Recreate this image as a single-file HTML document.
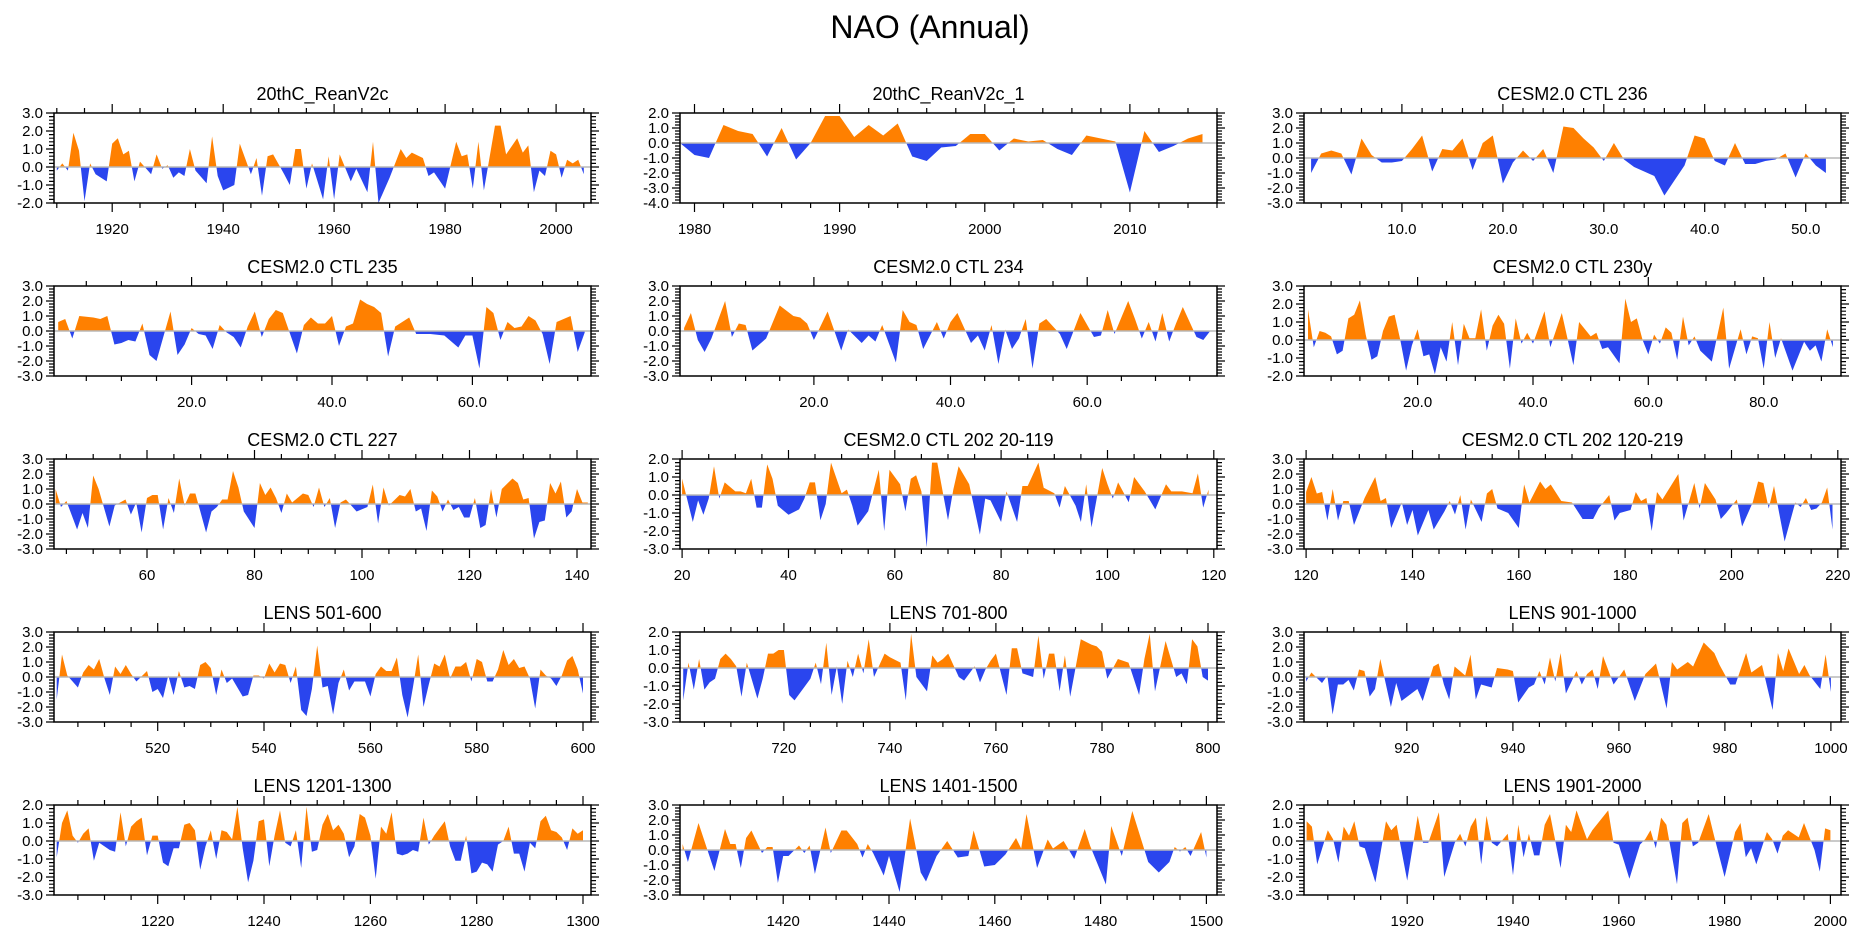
<!DOCTYPE html>
<html><head><meta charset="utf-8"><title>NAO (Annual)</title>
<style>
html,body{margin:0;padding:0;background:#fff;}
svg{display:block;font-family:"Liberation Sans",Arial,sans-serif;}
</style></head>
<body>
<svg id="fig" width="1861" height="936" viewBox="0 0 1861 936" xmlns="http://www.w3.org/2000/svg">
<text x="930" y="38" font-size="32" text-anchor="middle">NAO (Annual)</text>
</svg>
<script>
// ---- Data ----
const p1Years=[1910,1911,1912,1913,1914,1915,1916,1917,1919,1920,1921,1922,1923,1924,1925,1927,1928,1929,1930,1931,1932,1933,1934,1935,1937,1938,1939,1940,1942,1943,1945,1946,1947,1948,1949,1951,1952,1953,1954,1955,1956,1958,1959,1960,1961,1963,1964,1966,1967,1968,1970,1972,1973,1974,1976,1977,1978,1980,1982,1983,1984,1985,1986,1987,1989,1990,1991,1993,1994,1995,1996,1997,1998,1999,2000,2001,2002,2003,2004,2005];
const p1Vals=[-0.2,0.2,-0.2,1.9,0.9,-1.9,0.2,-0.4,-0.8,1.3,1.6,0.7,0.9,-0.8,0.3,-0.4,0.7,-0.1,0.1,-0.6,-0.3,-0.5,1.0,-0.2,-0.9,1.7,-0.5,-1.3,-1.0,1.3,-0.4,0.5,-1.6,0.6,0.7,-0.4,-1.0,1.0,1.0,-1.2,0.2,-1.8,0.6,-1.8,0.7,-0.8,-0.1,-1.4,1.4,-2.0,-0.6,1.0,0.5,0.8,0.5,-0.5,-0.3,-1.2,1.4,0.6,0.7,-1.2,1.4,-1.3,2.3,2.3,0.7,1.6,0.8,1.2,-1.4,-0.2,-0.5,0.9,0.7,-0.6,0.4,0.2,0.4,-0.4];

const p2Years=[1979,1980,1981,1982,1983,1984,1985,1986,1987,1988,1989,1990,1991,1992,1993,1994,1995,1996,1997,1998,1999,2000,2001,2002,2003,2004,2005,2006,2007,2008,2009,2010,2011,2012,2013,2014,2015];
const p2Vals=[0.0,-0.8,-1.0,1.2,0.8,0.6,-0.9,1.0,-1.1,0.0,1.8,1.8,0.4,1.2,0.5,1.3,-0.9,-1.2,-0.3,-0.2,0.6,0.6,-0.5,0.3,0.1,0.2,-0.4,-0.8,0.5,0.3,0.1,-3.3,0.8,-0.6,-0.2,0.3,0.6];

const p3Years=[1,2,3,4,5,6,7,8,9,10,11,12,13,14,15,16,17,18,19,20,21,22,23,24,25,26,27,28,29,30,31,32,33,34,35,36,37,38,39,40,41,42,43,44,45,46,47,48,49,50,51,52];
const p3Vals=[-1.0,0.3,0.5,0.3,-1.1,1.3,0.2,-0.3,-0.3,-0.2,0.6,1.5,-0.9,0.6,0.5,1.3,-0.8,1.0,1.5,-1.7,-0.3,0.5,-0.2,0.6,-1.0,2.1,2.0,1.3,0.7,-0.2,1.0,-0.1,-0.6,-0.9,-1.2,-2.5,-1.5,-0.5,1.5,1.3,-0.2,-0.5,1.0,-0.4,-0.4,-0.2,-0.1,0.3,-1.3,0.3,-0.5,-1.0];

const p4Years=[1,2,3,4,6,7,8,9,10,11,12,13,14,15,17,18,19,20,21,22,23,24,25,26,27,28,29,30,31,32,33,35,36,37,38,39,40,41,42,43,44,45,46,47,48,49,51,52,54,56,57,58,59,60,61,62,63,64,65,66,67,68,69,70,71,72,73,74,75,76];
const p4Vals=[0.6,0.8,-0.5,1.0,0.9,0.8,1.0,-0.9,-0.8,-0.6,-0.7,0.5,-1.6,-2.0,1.3,-1.6,-0.9,0.2,-0.2,-0.3,-1.2,0.4,-0.1,-0.4,-1.1,0.3,1.3,-0.4,0.8,1.4,1.2,-1.5,0.4,0.9,0.5,0.5,1.0,-1.0,0.3,0.5,2.1,1.8,1.6,1.2,-1.7,0.3,0.9,-0.2,-0.2,-0.3,-0.7,-1.1,-0.3,-0.3,-2.5,1.6,1.2,-0.6,0.6,0.2,0.3,1.0,0.7,-0.2,-2.2,0.6,0.8,1.0,-1.4,-0.1];

const p5Years=[1,2,3,4,5,7,8,9,10,11,13,15,17,18,19,20,22,24,25,27,28,29,30,32,33,34,35,36,38,39,40,41,43,44,45,46,47,48,49,50,51,52,53,54,56,57,59,61,62,63,64,66,67,68,69,70,71,72,73,74,76,77,78];
const p5Vals=[0.2,1.2,-0.6,-1.4,-0.5,2.0,-0.4,0.5,0.4,-1.3,-0.5,1.7,1.0,0.9,0.5,-0.6,1.3,-1.3,0.1,-0.8,-0.3,-0.7,0.4,-2.1,1.4,0.6,0.4,-1.2,0.6,-0.5,0.6,1.2,-0.8,-0.3,-1.3,0.4,-2.2,0.1,-1.2,-0.5,0.8,-2.5,0.5,0.8,-0.2,-1.2,1.2,-0.4,-0.3,1.4,-0.2,2.0,0.8,-0.5,0.6,-0.7,1.2,-0.7,0.5,1.6,-0.4,-0.6,0.0];

const p6Years=[1,2,3,4,5,6,7,8,9,10,11,12,13,14,15,16,17,18,19,20,21,22,23,24,25,26,27,28,29,30,31,32,33,34,35,36,37,38,39,40,42,43,45,47,48,50,51,52,53,55,56,57,58,59,60,61,62,63,64,65,66,67,68,69,71,73,74,76,77,78,79,80,81,82,83,85,87,88,89,90,91,92];
const p6Vals=[1.7,-0.4,0.5,0.4,0.2,-0.8,-0.6,1.2,1.4,2.2,0.3,-1.1,-0.9,0.5,1.3,1.4,0.0,-1.7,-0.3,0.6,-0.9,-0.8,-1.9,-0.4,-1.2,1.0,-1.4,0.9,0.1,0.1,1.7,-0.6,0.8,1.4,0.9,-1.6,1.2,-0.2,0.4,-0.2,1.6,-0.4,1.5,-1.4,1.0,0.2,0.4,-0.5,-0.4,-1.3,2.3,1.0,1.2,0.0,-0.8,0.3,-0.2,0.7,0.4,-1.1,1.3,-0.3,0.2,-0.6,-1.2,1.8,-1.6,0.6,-0.8,0.2,0.1,-1.6,1.0,-1.0,0.1,-1.7,-0.1,-0.6,-0.3,-1.2,0.6,-0.4];

const p7Years=[43,44,45,47,48,49,50,51,53,54,56,57,58,59,60,61,62,63,64,65,66,67,68,69,71,72,73,74,75,76,77,78,80,81,82,83,84,85,86,87,89,90,91,92,93,94,95,96,97,99,101,102,103,104,105,107,108,109,110,111,112,113,114,115,116,117,118,119,120,121,122,123,124,125,126,128,129,130,131,132,133,134,135,136,137,138,139,140,141,142];
const p7Vals=[1.0,-0.2,0.2,-1.7,-0.6,-1.6,1.9,1.0,-1.5,-0.1,0.3,-0.7,0.1,-1.9,0.4,0.6,0.6,-1.7,0.4,-0.6,1.7,-0.1,0.7,0.7,-1.9,-0.5,-0.2,0.3,0.3,2.2,1.1,-0.5,-1.6,1.4,0.6,1.1,0.4,-0.6,0.7,0.1,0.7,0.6,-0.2,1.1,-0.2,0.4,-1.6,0.1,0.3,-0.5,-0.2,1.3,-1.3,1.1,-0.1,0.6,0.5,1.0,-0.5,-0.3,-1.8,0.9,0.5,-0.5,0.3,-0.4,-0.2,-0.9,-0.9,0.4,-1.6,-1.4,1.0,-0.9,1.0,1.7,1.4,0.3,0.4,-2.3,-1.2,-1.1,1.4,0.7,1.5,-0.9,-0.5,1.0,0.1,0.1];

const p8Years=[20,22,23,24,25,26,27,28,30,31,32,33,34,35,36,37,38,40,42,43,44,45,46,47,48,50,51,52,53,55,57,58,59,61,62,63,64,65,66,67,68,70,71,72,74,76,77,78,80,81,83,84,85,87,88,90,91,92,94,95,96,97,99,100,101,102,104,105,107,109,111,112,114,116,117,118,119];
const p8Vals=[0.9,-1.5,-0.3,-1.1,-0.2,1.6,-0.2,0.7,0.2,0.2,0.1,0.9,-0.7,-0.7,1.7,0.9,-0.6,-1.1,-0.8,-0.2,0.7,0.7,-1.4,-0.5,1.8,0.1,0.3,-0.6,-1.7,-0.9,1.4,-2.0,1.4,0.6,-0.9,0.9,1.1,0.2,-2.9,1.8,1.8,-1.4,0.3,1.6,0.6,-2.2,-0.2,-0.3,-1.5,0.2,-1.5,0.5,0.5,1.8,0.4,0.1,-0.7,0.5,-0.6,-1.5,0.6,-1.8,1.5,0.6,-0.2,0.7,-0.4,1.0,0.2,-0.8,0.6,0.2,0.2,0.1,1.2,-0.7,0.3];

const p9Years=[120,121,122,123,124,125,126,127,128,129,131,133,134,135,136,138,139,140,141,143,144,146,147,148,149,150,151,153,154,155,156,158,160,161,162,164,165,166,168,170,172,174,175,177,178,179,181,182,183,184,185,186,187,190,191,193,194,195,197,198,199,201,202,204,205,206,207,208,210,212,213,214,215,216,217,218,219];
const p9Vals=[0.8,1.8,0.7,0.8,-1.1,1.0,-1.1,0.2,0.2,-1.4,0.4,1.8,0.2,0.4,-1.6,0.1,-1.4,-0.4,-2.1,-0.4,-1.7,-0.5,0.2,-0.7,0.6,-1.7,0.3,-1.2,0.7,1.0,-0.3,-0.6,-1.6,1.3,0.1,1.5,1.0,1.3,0.2,0.1,-1.0,-1.0,-0.3,0.6,-1.1,-0.6,-0.4,0.8,0.2,0.4,-1.8,0.8,0.3,2.0,-1.1,1.4,-0.3,1.4,0.3,-1.0,-0.6,0.3,-1.5,0.1,1.5,1.4,-0.3,1.2,-2.5,0.1,-0.2,0.4,-0.4,-0.3,0.1,1.1,-1.7];

const p10Years=[501,502,503,505,506,507,508,509,510,511,512,513,514,515,516,518,519,520,521,522,523,524,525,526,527,528,529,530,531,532,533,534,536,537,538,539,540,541,542,543,544,545,546,547,548,549,550,551,552,553,554,555,556,557,558,559,560,561,562,563,564,565,566,567,568,569,570,571,572,573,574,575,576,577,578,579,580,581,582,583,584,585,586,587,588,589,590,591,592,593,594,595,596,597,598,599,600];
const p10Vals=[-1.5,1.5,0.1,-0.7,0.3,0.8,0.5,1.2,-0.1,-1.2,0.7,0.2,0.8,0.2,-0.3,0.4,-1.0,-0.8,-1.4,0.1,-1.2,0.4,-0.7,-0.6,-0.8,0.8,1.0,0.6,-1.2,0.5,-0.4,-0.1,-1.3,-1.2,0.1,0.1,-0.1,0.9,0.3,0.9,0.8,-0.4,0.7,-2.2,-2.6,-0.8,2.1,-0.7,-0.6,-2.5,-0.4,0.5,-0.9,-0.3,-0.3,-0.3,-1.3,0.2,0.7,0.4,0.4,1.3,-1.2,-2.7,-0.7,1.5,-2.0,-0.5,0.9,0.7,1.5,-0.1,0.7,0.7,1.0,-0.3,1.2,1.0,-0.3,-0.3,0.5,1.8,0.8,1.2,0.6,0.7,-0.1,-2.1,0.5,0.1,-0.1,-0.6,0.1,1.1,1.4,0.5,-1.1];

const p11Years=[701,702,703,704,705,706,707,708,709,710,711,712,713,715,716,717,718,719,720,721,722,724,725,726,727,728,729,730,731,732,733,734,735,736,737,739,740,742,743,744,745,747,748,749,750,751,753,754,756,757,758,759,760,762,763,764,765,767,768,769,770,771,772,773,774,776,778,779,780,781,783,785,787,788,789,790,792,794,795,796,797,798,799,800];
const p11Vals=[-1.8,0.3,-1.2,0.5,-1.2,-0.8,-0.6,0.5,0.8,0.5,0.1,-1.6,0.3,-1.7,-0.6,0.8,0.8,1.0,1.0,-1.5,-1.8,-1.0,-0.6,0.3,-0.9,1.4,-1.5,0.1,-2.0,0.4,-0.5,0.8,-0.3,1.6,-0.5,0.8,0.6,0.3,-1.8,1.9,-0.5,-1.3,0.7,0.3,0.5,0.8,-0.5,-0.7,0.1,-0.8,-0.1,0.4,0.8,-1.5,1.1,1.1,-0.3,-0.5,1.8,-0.6,0.8,0.8,-1.3,0.7,-1.6,1.6,1.3,1.2,0.9,-0.6,0.5,0.3,-1.5,0.5,1.9,-1.3,1.5,-0.5,-0.3,-0.9,1.6,1.2,-0.5,-0.7];

const p12Years=[901,902,904,905,906,907,908,909,910,911,912,913,914,915,917,918,919,922,923,925,926,927,928,929,931,932,933,934,936,937,939,940,941,943,944,945,946,947,948,949,950,952,953,954,955,956,957,959,961,963,965,967,969,970,971,973,974,976,978,979,981,982,984,985,987,989,990,991,992,994,995,996,998,999,1000];
const p12Vals=[-0.3,0.3,-0.4,0.1,-2.5,-0.5,-0.5,-0.2,-0.9,0.5,0.4,-1.3,-0.8,1.2,-2.0,-0.4,-1.6,-0.8,-1.6,0.7,0.9,-0.5,-1.5,0.7,0.1,1.5,-1.5,-0.5,-0.7,0.6,0.5,0.4,-1.7,-0.7,-0.5,0.4,-0.5,1.3,-0.3,1.6,-1.1,0.4,-0.5,0.2,0.5,-0.8,1.4,-0.5,0.5,-1.6,0.2,0.9,-2.1,1.0,0.5,1.0,0.7,2.3,1.6,0.8,-0.5,-0.5,1.6,0.3,0.8,-2.2,1.6,0.4,1.9,0.2,0.8,0.1,-0.8,1.5,-1.0];

const p13Years=[1201,1202,1203,1204,1205,1206,1207,1208,1209,1210,1211,1212,1213,1214,1215,1216,1217,1218,1219,1220,1221,1222,1223,1224,1225,1226,1227,1228,1229,1230,1231,1232,1233,1234,1235,1236,1237,1238,1239,1240,1241,1242,1243,1244,1245,1246,1247,1248,1249,1250,1251,1252,1253,1254,1255,1256,1257,1258,1259,1260,1261,1262,1263,1264,1265,1266,1267,1268,1269,1270,1271,1272,1273,1274,1275,1276,1277,1278,1279,1280,1281,1282,1283,1284,1285,1286,1287,1288,1289,1290,1291,1292,1293,1294,1295,1296,1297,1298,1299,1300];
const p13Vals=[-0.9,1.0,1.7,0.3,-0.1,0.4,0.7,-1.1,-0.1,-0.3,-0.5,-0.6,1.6,-0.3,0.8,1.1,1.3,-0.8,0.3,0.3,-1.2,-1.4,-0.4,-0.4,0.9,1.0,0.6,-1.6,-0.3,0.6,-1.0,0.6,0.5,0.1,1.9,-0.4,-2.3,-1.1,1.1,1.2,-1.4,0.3,1.7,-0.1,-0.3,0.6,-1.5,1.9,-0.6,-0.5,0.9,1.5,0.6,0.9,0.4,-0.9,-0.3,1.5,1.3,0.3,-2.1,0.8,0.4,1.6,-0.7,-0.8,-0.7,-0.5,-0.6,1.3,-0.2,0.3,0.7,1.1,-0.3,-1.1,-1.1,0.3,-1.8,-1.7,-1.2,-1.3,-1.7,-0.2,0.0,0.8,-0.7,-0.7,-1.7,-0.1,-0.4,1.1,1.4,0.6,0.5,0.2,-0.5,0.7,0.4,0.6];

const p14Years=[1401,1402,1404,1407,1409,1410,1411,1412,1413,1414,1416,1417,1418,1419,1420,1421,1423,1424,1425,1426,1428,1429,1431,1432,1434,1435,1436,1437,1439,1440,1442,1444,1446,1447,1449,1451,1453,1455,1456,1458,1460,1462,1464,1465,1466,1468,1470,1471,1473,1475,1477,1478,1481,1482,1484,1486,1489,1491,1493,1494,1495,1496,1497,1499,1500];
const p14Vals=[0.4,-0.8,1.8,-1.4,1.4,0.4,0.4,-1.2,0.8,1.3,-0.2,0.2,0.2,-2.2,-0.4,-0.4,0.3,-0.2,0.3,-1.6,1.5,-0.2,1.3,1.3,0.4,-0.5,0.4,-0.2,-1.7,-0.4,-2.8,2.1,-1.5,-2.1,-0.4,0.6,-0.5,-0.4,1.3,-1.1,-1.0,-0.3,0.8,0.1,2.4,-1.2,0.7,0.1,0.6,-0.6,1.4,0.3,-2.3,1.6,-0.4,2.6,-0.8,-1.5,-0.8,0.2,-0.1,0.2,-0.4,1.2,-0.5];

const p15Years=[1901,1902,1903,1905,1906,1907,1908,1909,1910,1911,1912,1914,1916,1917,1918,1920,1922,1923,1924,1926,1927,1929,1930,1931,1932,1933,1934,1935,1936,1937,1939,1940,1941,1942,1943,1944,1945,1946,1947,1949,1950,1951,1952,1954,1955,1958,1959,1960,1962,1964,1965,1966,1967,1968,1969,1971,1972,1973,1974,1975,1977,1978,1980,1982,1983,1984,1985,1986,1988,1989,1990,1991,1992,1994,1995,1997,1998,1999,2000];
const p15Vals=[1.1,0.8,-1.3,0.6,0.1,-1.2,0.8,0.3,1.1,-0.3,-0.4,-2.3,1.1,0.6,0.9,-2.2,1.4,-0.1,-0.1,1.6,-2.0,-0.1,0.4,-0.3,0.8,1.3,-1.3,1.4,-0.1,-0.3,0.4,-1.9,0.9,-0.9,0.4,-0.8,-0.8,0.9,1.5,-1.5,0.9,0.5,1.7,0.1,0.6,1.7,-0.1,-0.2,-2.1,-0.2,0.1,0.6,-0.4,1.3,0.9,-2.4,1.0,1.3,-0.3,-0.1,1.5,0.3,-2.0,0.5,1.0,-0.9,-0.4,-1.3,0.5,0.1,-0.7,0.3,0.6,0.2,1.0,-0.5,-1.7,0.7,0.6];

const panelTitles=["20thC_ReanV2c","20thC_ReanV2c_1","CESM2.0 CTL 236","CESM2.0 CTL 235","CESM2.0 CTL 234","CESM2.0 CTL 230y","CESM2.0 CTL 227","CESM2.0 CTL 202 20-119","CESM2.0 CTL 202 120-219","LENS 501-600","LENS 701-800","LENS 901-1000","LENS 1201-1300","LENS 1401-1500","LENS 1901-2000"];

// ---- Layout / axis configuration ----
const NS="http://www.w3.org/2000/svg";
const svg=document.getElementById('fig');
const colLeft=[54,680,1304], W=537, H=90, rowTop=[113,286,459,632,805];
const cfg=[
 {ys:p1Years,vs:p1Vals,xr:[1909.5,2006.3],yr:[-2,3],maj:20,min:5,dec:0},
 {ys:p2Years,vs:p2Vals,xr:[1979,2016],yr:[-4,2],maj:10,min:2,dec:0},
 {ys:p3Years,vs:p3Vals,xr:[0.3,53.5],yr:[-3,3],maj:10,min:2,dec:1},
 {ys:p4Years,vs:p4Vals,xr:[0.4,76.9],yr:[-3,3],maj:20,min:5,dec:1},
 {ys:p5Years,vs:p5Vals,xr:[0.4,79],yr:[-3,3],maj:20,min:5,dec:1},
 {ys:p6Years,vs:p6Vals,xr:[0.3,93.4],yr:[-2,3],maj:20,min:5,dec:1},
 {ys:p7Years,vs:p7Vals,xr:[42.7,142.6],yr:[-3,3],maj:20,min:5,dec:0},
 {ys:p8Years,vs:p8Vals,xr:[19.6,120.6],yr:[-3,2],maj:20,min:5,dec:0},
 {ys:p9Years,vs:p9Vals,xr:[119.6,220.6],yr:[-3,3],maj:20,min:5,dec:0},
 {ys:p10Years,vs:p10Vals,xr:[500.5,601.5],yr:[-3,3],maj:20,min:5,dec:0},
 {ys:p11Years,vs:p11Vals,xr:[700.4,801.7],yr:[-3,2],maj:20,min:5,dec:0},
 {ys:p12Years,vs:p12Vals,xr:[900.6,1001.9],yr:[-3,3],maj:20,min:5,dec:0},
 {ys:p13Years,vs:p13Vals,xr:[1200.5,1301.5],yr:[-3,2],maj:20,min:5,dec:0},
 {ys:p14Years,vs:p14Vals,xr:[1400.5,1502],yr:[-3,3],maj:20,min:5,dec:0},
 {ys:p15Years,vs:p15Vals,xr:[1900.5,2002],yr:[-3,2],maj:20,min:5,dec:0}
];
function mk(tag,attrs,parent){const e=document.createElementNS(NS,tag);for(const k in attrs)e.setAttribute(k,attrs[k]);(parent||svg).appendChild(e);return e;}

cfg.forEach((c,i)=>{
  const L=colLeft[i%3], T=rowTop[Math.floor(i/3)], R=L+W, B=T+H;
  const g=mk('g',{});
  
  
  const sx=v=>L+(v-c.xr[0])/(c.xr[1]-c.xr[0])*W;
  const sy=v=>B-(v-c.yr[0])/(c.yr[1]-c.yr[0])*H;
  const y0=sy(0);
  const cu=mk('clipPath',{id:'cu'+i},g); mk('rect',{x:L,y:T,width:W,height:y0-T},cu);
  const cd=mk('clipPath',{id:'cd'+i},g); mk('rect',{x:L,y:y0,width:W,height:B-y0},cd);
  let d='M'+sx(c.ys[0]).toFixed(1)+','+y0.toFixed(1);
  for(let k=0;k<c.ys.length;k++) d+=' L'+sx(c.ys[k]).toFixed(1)+','+sy(c.vs[k]).toFixed(1);
  d+=' L'+sx(c.ys[c.ys.length-1]).toFixed(1)+','+y0.toFixed(1)+' Z';
  const up=mk('path',{d:d,fill:'#ff8000','clip-path':'url(#cu'+i+')'},g);
  
  
  const dn=mk('path',{d:d,fill:'#2a45ee','clip-path':'url(#cd'+i+')'},g);
  
  
  const zl=mk('line',{x1:L,x2:R,y1:y0,y2:y0,stroke:'#b8b8b8','stroke-width':1.5},g);
  
  
  const fr=mk('rect',{x:L,y:T,width:W,height:H,fill:'none',stroke:'#000','stroke-width':1.5},g);
  
  
  let ticks='';
  for(let v=c.yr[0]; v<=c.yr[1]+1e-9; v+=0.2){
    const y=sy(v).toFixed(1); const major=Math.abs(v-Math.round(v))<1e-6; const len=major?8:5;
    ticks+=`M${L},${y}h${-len}M${R},${y}h${len}`;
  }
  const first=Math.ceil(c.xr[0]/c.min)*c.min;
  for(let v=first; v<=c.xr[1]; v+=c.min){
    const x=sx(v).toFixed(1); const major=Math.abs(v/c.maj-Math.round(v/c.maj))<1e-6; const len=major?9:5;
    ticks+=`M${x},${B}v${len}M${x},${T}v${-len}`;
  }
  mk('path',{d:ticks,stroke:'#000','stroke-width':1.2,fill:'none'},g);
  for(let v=c.yr[0]; v<=c.yr[1]; v++){
    const t=mk('text',{x:L-11,y:(sy(v)+5).toFixed(1),'font-size':15,'text-anchor':'end'},g);
    t.textContent=v.toFixed(1);
    
    
  }
  const fm=Math.ceil(c.xr[0]/c.maj)*c.maj;
  for(let v=fm; v<=c.xr[1]; v+=c.maj){
    const t=mk('text',{x:sx(v).toFixed(1),y:B+31,'font-size':15,'text-anchor':'middle'},g);
    t.textContent=c.dec?v.toFixed(1):String(v);
    
    
  }
  const tt=mk('text',{x:L+W/2,y:T-13,'font-size':18,'text-anchor':'middle'},g);
  tt.textContent=panelTitles[i];
  
  
});
</script>
</body></html>
